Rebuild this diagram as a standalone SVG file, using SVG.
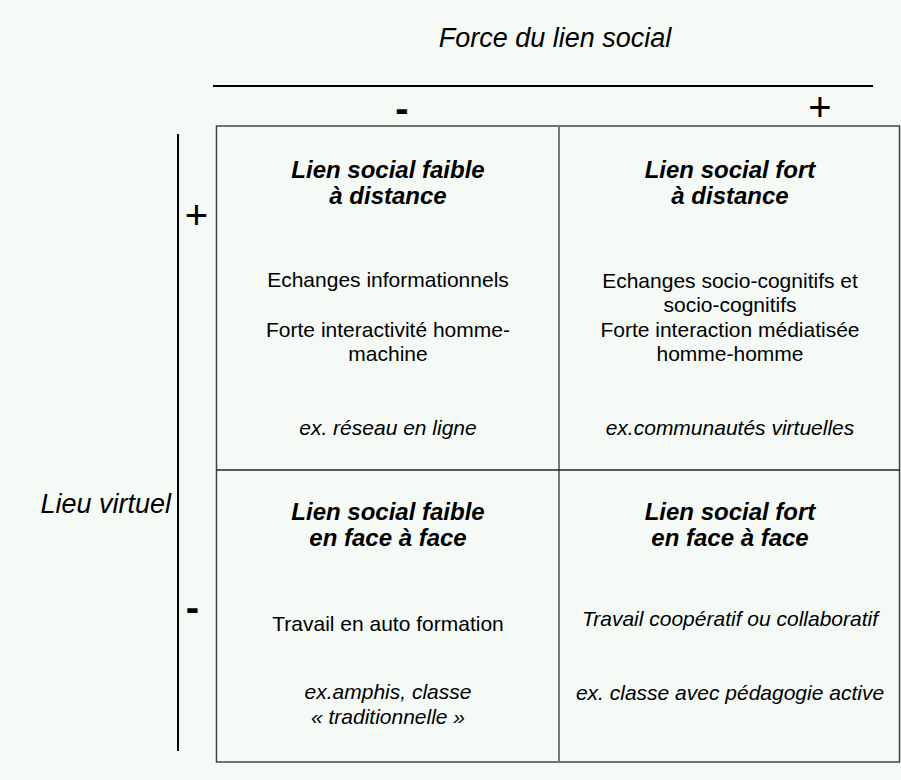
<svg xmlns="http://www.w3.org/2000/svg" width="901" height="780" viewBox="0 0 901 780">
<style>
text{font-family:"Liberation Sans",Arial,sans-serif;fill:#000;text-anchor:middle}
.ax{font-size:27px;font-style:italic}
.pl{font-size:40px}
.mn{font-size:40px;font-weight:bold}
.h{font-size:24px;font-weight:bold;font-style:italic}
.t{font-size:21px}
.i{font-size:21px;font-style:italic}
</style>
<rect width="901" height="780" fill="#f5faf7"/>
<g id="axes">
<text class="ax" x="555" y="47">Force du lien social</text>
<line x1="213" y1="86" x2="873" y2="86" stroke="#000" stroke-width="2"/>
<text class="mn" x="402" y="122">-</text>
<text class="pl" x="820" y="121">+</text>
<line x1="178" y1="134" x2="178" y2="751" stroke="#000" stroke-width="2"/>
<text class="ax" x="171" y="513" style="text-anchor:end">Lieu virtuel</text>
<text class="pl" x="196.5" y="229">+</text>
<text class="mn" x="192.5" y="621">-</text>
</g>
<g id="grid" fill="none">
<rect x="216.5" y="126" width="683" height="636" stroke="#444" stroke-width="1.5"/>
<line x1="559" y1="126" x2="559" y2="762" stroke="#777" stroke-width="2"/>
<line x1="216.5" y1="470" x2="900" y2="470" stroke="#222" stroke-width="1.5"/>
</g>
<g id="cell-tl">
<text class="h" x="388" y="178">Lien social faible</text>
<text class="h" x="388" y="204">à distance</text>
<text class="t" x="388" y="287">Echanges informationnels</text>
<text class="t" x="388" y="337">Forte interactivité homme-</text>
<text class="t" x="388" y="361">machine</text>
<text class="i" x="388" y="435">ex. réseau en ligne</text>
</g>
<g id="cell-tr">
<text class="h" x="730" y="178">Lien social fort</text>
<text class="h" x="730" y="204">à distance</text>
<text class="t" x="730" y="288">Echanges socio-cognitifs et</text>
<text class="t" x="730" y="312">socio-cognitifs</text>
<text class="t" x="730" y="337">Forte interaction médiatisée</text>
<text class="t" x="730" y="361">homme-homme</text>
<text class="i" x="730" y="435">ex.communautés virtuelles</text>
</g>
<g id="cell-bl">
<text class="h" x="388" y="520">Lien social faible</text>
<text class="h" x="388" y="546">en face à face</text>
<text class="t" x="388" y="631">Travail en auto formation</text>
<text class="i" x="388" y="699">ex.amphis, classe</text>
<text class="i" x="388" y="724">« traditionnelle »</text>
</g>
<g id="cell-br">
<text class="h" x="730" y="520">Lien social fort</text>
<text class="h" x="730" y="546">en face à face</text>
<text class="i" x="730" y="626">Travail coopératif ou collaboratif</text>
<text class="i" x="730" y="700">ex. classe avec pédagogie active</text>
</g>
</svg>
